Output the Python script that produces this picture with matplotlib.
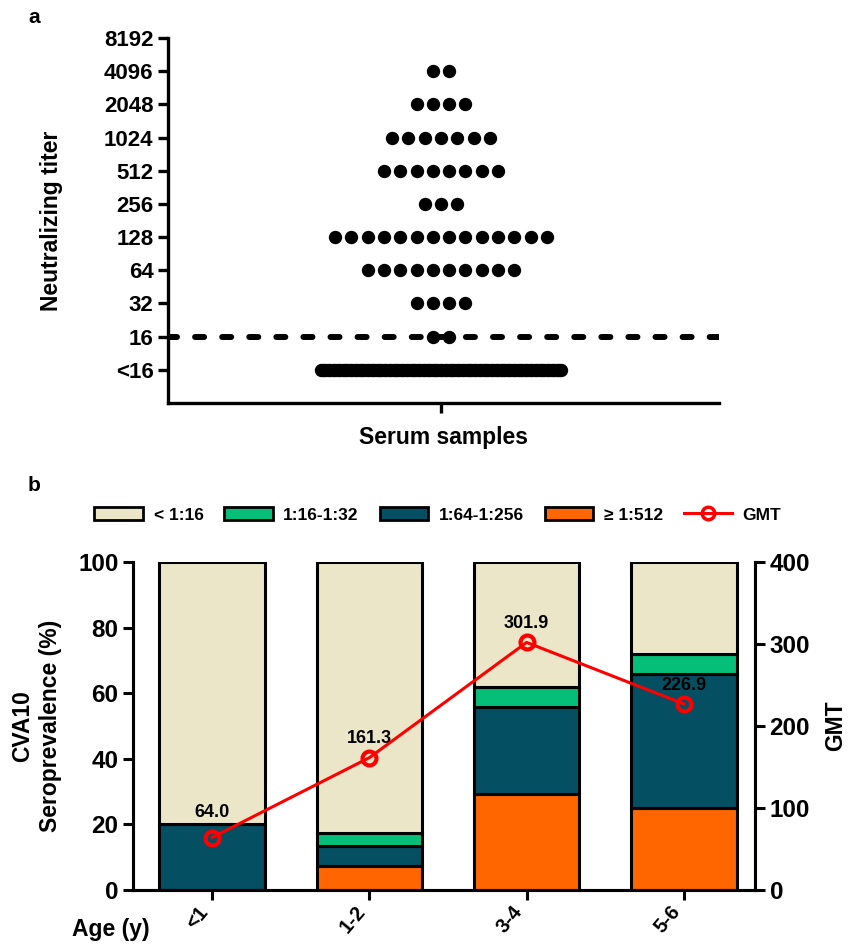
import matplotlib
matplotlib.use('Agg')
import matplotlib.pyplot as plt
from matplotlib.patches import Patch
from matplotlib.lines import Line2D
import numpy as np

plt.rcParams['font.family'] = ['Liberation Sans', 'DejaVu Sans']
plt.rcParams['font.weight'] = 'bold'
plt.rcParams['axes.labelweight'] = 'bold'
plt.rcParams['lines.scale_dashes'] = False

# ---- panel a data: number of samples at each titer
titer_labels = ['<16', '16', '32', '64', '128', '256', '512', '1024', '2048', '4096', '8192']
titer_counts = [100, 2, 4, 10, 14, 3, 8, 7, 4, 2, 0]

# ---- panel b data (% of each age group)
ages = ['<1', '1-2', '3-4', '5-6']
pct_lt16 = [80.0, 82.7, 38.1, 28.0]
pct_16_32 = [0.0, 3.9, 6.1, 6.1]
pct_64_256 = [20.0, 6.0, 26.5, 40.9]
pct_ge512 = [0.0, 7.4, 29.3, 25.0]
gmt = [64.0, 161.3, 301.9, 226.9]

c_lt16 = '#EBE6C8'
c_16_32 = '#05BF78'
c_64_256 = '#044F62'
c_ge512 = '#FF6600'

fig = plt.figure(figsize=(8.62, 9.44), dpi=100)

# ======== panel a
ax = fig.add_axes([0.1949, 0.5731, 0.6392, 0.3866])
ylev = np.arange(len(titer_labels)) + 3   # log2 scale, <16 drawn at 8
center = 0.4955
step = 0.0296
max_width = 0.437
for lev, n in zip(ylev, titer_counts):
    if n == 0:
        continue
    width = min((n - 1) * step, max_width)
    xs = center + np.linspace(-width / 2, width / 2, n) if n > 1 else np.array([center])
    ax.plot(xs, np.full(n, lev), 'o', color='black', markersize=8.6, zorder=3)

ax.axhline(4, color='black', lw=4.3, linestyle=(0, (6.5, 13)), dash_capstyle='round', zorder=2)
ax.set_xlim(0, 1)
ax.set_ylim(2, 13)
ax.set_yticks(ylev)
ax.set_yticklabels(titer_labels)
ax.set_xticks([center])
ax.set_xticklabels([''])
ax.spines['top'].set_visible(False)
ax.spines['right'].set_visible(False)
for s in ['left', 'bottom']:
    ax.spines[s].set_linewidth(2.4)
ax.spines['left'].set_bounds(2, 13)
ax.tick_params(width=2.4, length=7, labelsize=16)
ax.set_ylabel('Neutralizing titer', fontsize=16.5)
ax.yaxis.set_label_coords(-0.19, 0.5)
ax.set_xlabel('Serum samples', fontsize=16.5, labelpad=6)

# ======== panel b
bx = fig.add_axes([0.1543, 0.0572, 0.7216, 0.3475])
x = np.arange(len(ages))
w = 0.67
bottom = np.zeros(len(ages))
for vals, col in [(pct_ge512, c_ge512), (pct_64_256, c_64_256),
                  (pct_16_32, c_16_32), (pct_lt16, c_lt16)]:
    bx.bar(x, vals, w, bottom=bottom, color=col, edgecolor='black', linewidth=2.2, zorder=2)
    bottom += np.array(vals)

bx.set_xlim(-0.502, 3.452)
bx.set_ylim(0, 100)
bx.set_yticks(np.arange(0, 101, 20))
bx.set_xticks(x)
bx.set_xticklabels(ages, rotation=50, ha='right', va='top', rotation_mode='default')
bx.spines['top'].set_visible(False)
for s in ['left', 'bottom', 'right']:
    bx.spines[s].set_linewidth(2.2)
bx.tick_params(width=2.2, length=7, labelsize=17.5)
bx.tick_params(axis='x', labelsize=14.5, pad=2)
bx.set_ylabel('CVA10\nSeroprevalence (%)', fontsize=16.5, linespacing=1.25)
bx.yaxis.set_label_coords(-0.114, 0.5)

rx = bx.twinx()
rx.plot(x, gmt, '-o', color='#FF0000', lw=2.2, markersize=10, markerfacecolor='none',
        markeredgewidth=3, zorder=4)
rx.set_ylim(0, 400)
rx.set_yticks(np.arange(0, 401, 100))
rx.spines['top'].set_visible(False)
for s in ['left', 'bottom', 'right']:
    rx.spines[s].set_linewidth(2.2)
rx.tick_params(width=2.2, length=7, labelsize=17.5)
rx.set_ylabel('GMT', fontsize=16.5, labelpad=10)
for xi, g in zip(x, gmt):
    off = 18 if g < 100 else 13.5
    rx.annotate('%.1f' % g, (xi, g), xytext=(0, off), textcoords='offset points',
                ha='center', va='center', fontsize=13)

fig.text(0.128, 0.015, 'Age (y)', fontsize=16.5, ha='center', va='center')
fig.text(0.04, 0.981, 'a', fontsize=15, ha='center', va='center')
fig.text(0.04, 0.486, 'b', fontsize=15, ha='center', va='center')

handles = [Patch(facecolor=c_lt16, edgecolor='black', linewidth=2),
           Patch(facecolor=c_16_32, edgecolor='black', linewidth=2),
           Patch(facecolor=c_64_256, edgecolor='black', linewidth=2),
           Patch(facecolor=c_ge512, edgecolor='black', linewidth=2),
           Line2D([], [], color='#FF0000', lw=2.2, marker='o', markersize=9,
                  markerfacecolor='none', markeredgewidth=2.5)]
fig.legend(handles, ['< 1:16', '1:16-1:32', '1:64-1:256', '\u2265 1:512', 'GMT'],
           loc='center', bbox_to_anchor=(0.508, 0.4545), ncol=5, frameon=False,
           fontsize=12.5, handlelength=2.8, handleheight=0.7, columnspacing=1.2,
           handletextpad=0.6)

fig.savefig('out.png', dpi=100)
